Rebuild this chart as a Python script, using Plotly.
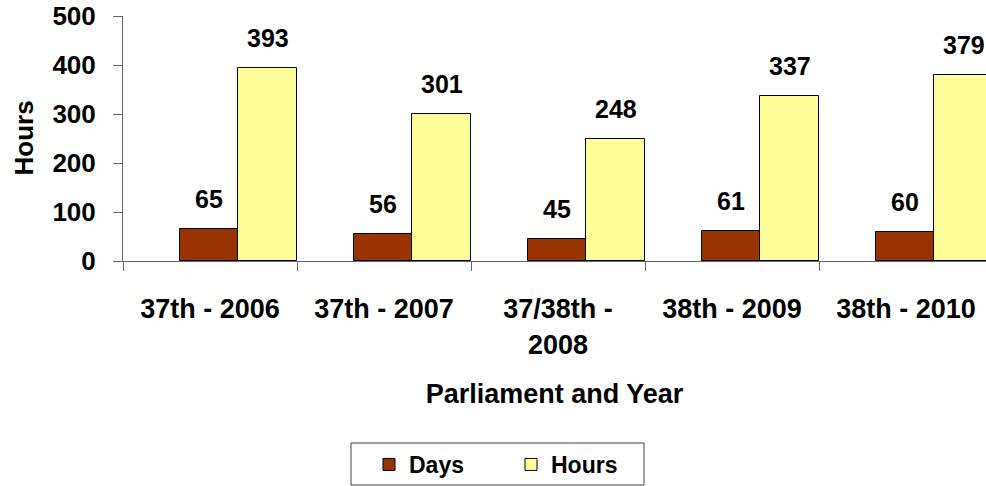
import plotly.graph_objects as go

categories = ["37th - 2006", "37th - 2007", "37/38th -<br>2008", "38th - 2009", "38th - 2010"]
days = [65, 56, 45, 61, 60]
hours = [393, 301, 248, 337, 379]
y_ticks = [0, 100, 200, 300, 400, 500]

FONT = "Liberation Sans, Arial, sans-serif"

def bold(size):
    return dict(family=FONT, size=size, color="#000000", weight="bold")

W, H = 986, 486
ML, MT = 123, 16
PW, PH = W - ML, 245

days_offset, days_width = -0.172, 0.333
hours_offset, hours_width = 0.161, 0.339

fig = go.Figure()
fig.add_trace(go.Bar(
    name="Days", x=categories, y=days,
    offset=days_offset, width=days_width,
    marker=dict(color="#993300", line=dict(color="#000000", width=1)),
))
fig.add_trace(go.Bar(
    name="Hours", x=categories, y=hours,
    offset=hours_offset, width=hours_width,
    marker=dict(color="#FFFF99", line=dict(color="#000000", width=1)),
))

annotations = []
for series, off, wid in ((days, days_offset, days_width), (hours, hours_offset, hours_width)):
    for i, v in enumerate(series):
        annotations.append(dict(x=i + off + wid / 2, y=v, xref="x", yref="y",
                                text=str(v), showarrow=False, yanchor="bottom", yshift=14,
                                font=bold(25)))

# y-axis title
annotations.append(dict(text="Hours", xref="paper", yref="paper",
                        x=(23 - ML) / PW, y=0.5, xanchor="center", yanchor="middle",
                        textangle=-90, showarrow=False, font=bold(26)))

# legend frame (figure pixel coords -> paper)
box_l, box_r, box_t, box_b = 351, 644, 443, 485
legend_box = dict(
    type="rect", xref="paper", yref="paper",
    x0=(box_l - ML) / PW, x1=(box_r - ML) / PW,
    y0=(MT + PH - box_b) / PH, y1=(MT + PH - box_t) / PH,
    line=dict(color="#404040", width=1), fillcolor="rgba(0,0,0,0)", layer="above",
)

fig.update_layout(
    width=W, height=H,
    margin=dict(l=ML, r=0, t=MT, b=H - MT - PH, autoexpand=False),
    paper_bgcolor="white", plot_bgcolor="white",
    font=bold(26),
    showlegend=True,
    legend=dict(
        orientation="h", xref="container", yref="container",
        x=369 / W, xanchor="left", y=1 - 443 / H, yanchor="top",
        borderwidth=0, bgcolor="rgba(0,0,0,0)",
        font=bold(23),
        entrywidth=97,
    ),
    annotations=annotations,
    shapes=[legend_box],
    bargap=0,
)
fig.update_xaxes(
    type="category", range=[-0.5, -0.5 + PW / 174], automargin=False,
    tickson="boundaries", ticks="outside", ticklen=9, tickcolor="#666666",
    showline=True, linecolor="#666666", linewidth=1,
    showgrid=False, zeroline=False,
    ticklabelstandoff=24, ticklabeloverflow="allow",
    tickfont=bold(27),
    title=dict(text="Parliament and Year", standoff=25, font=bold(27)),
)
fig.update_yaxes(
    range=[0, 500], tickvals=y_ticks, automargin=False,
    ticks="outside", ticklen=9, tickcolor="#666666",
    showline=True, linecolor="#666666", linewidth=1,
    showgrid=False, zeroline=False,
    ticklabelstandoff=12, ticklabeloverflow="allow",
    tickfont=bold(26),
)

fig.write_html("out.html", config={"displayModeBar": False},
               post_script="document.body.style.margin='0';")
